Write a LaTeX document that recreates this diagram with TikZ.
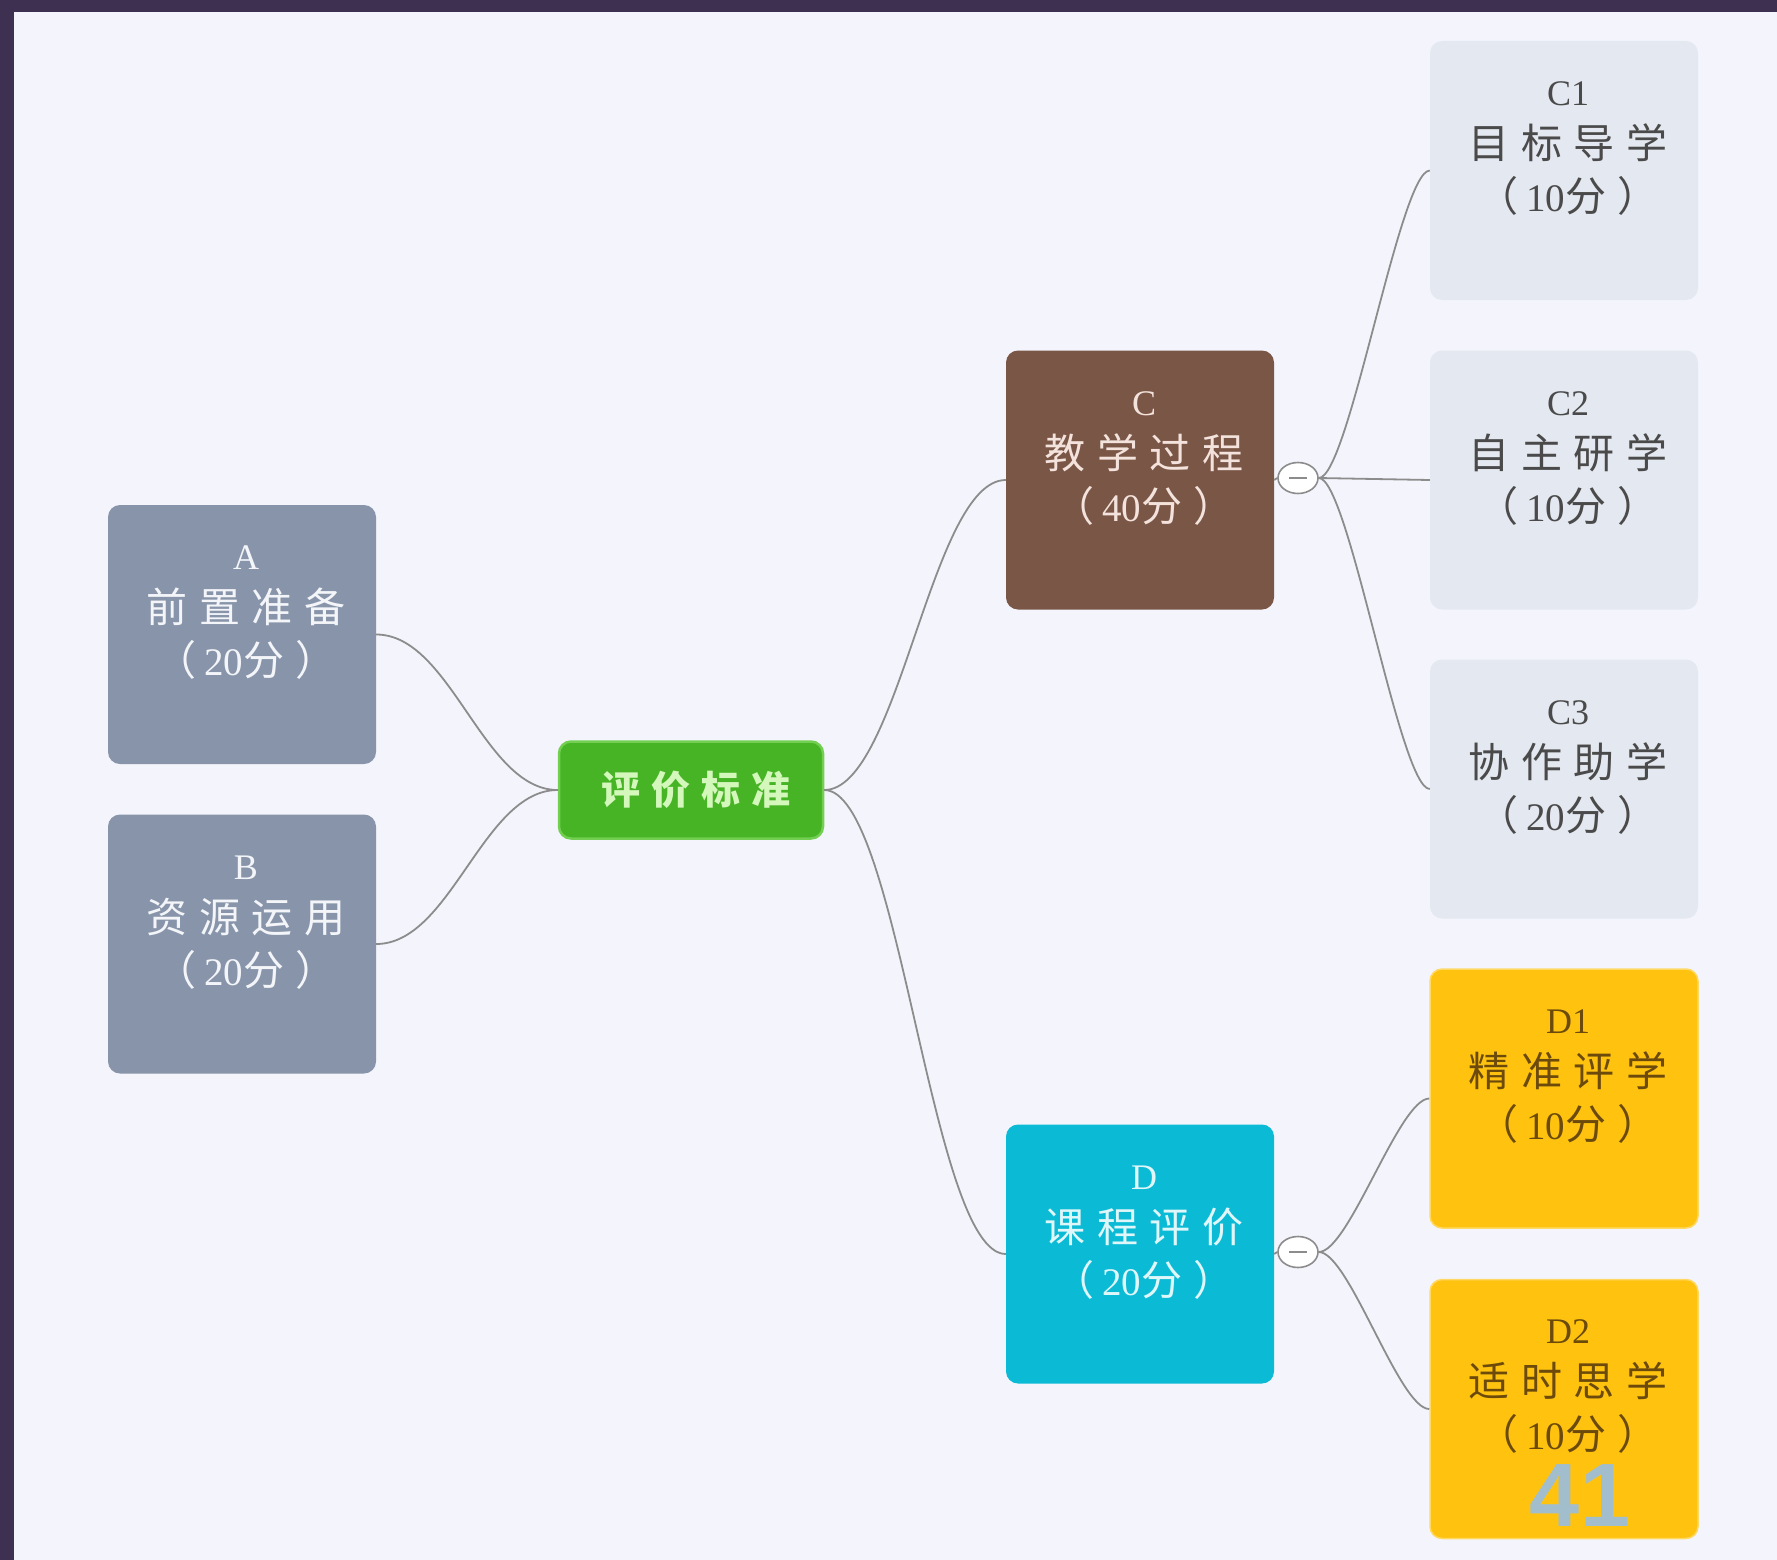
\documentclass[tikz,border=0pt]{standalone}
\usepackage{fontspec}
\setmainfont{Liberation Serif}
\newfontfamily\cjk[LetterSpace=29]{Noto Sans CJK SC}
\newfontfamily\wmfont{Liberation Sans}
\usetikzlibrary{shapes.geometric}
\definecolor{bgc}{HTML}{F4F5FC}
\definecolor{framec}{HTML}{3D3050}
\definecolor{abfill}{HTML}{8794A9}
\definecolor{abtext}{HTML}{F3F5F9}
\definecolor{cfill}{HTML}{7A5646}
\definecolor{ctext}{HTML}{F3E3DC}
\definecolor{dfill}{HTML}{0BBAD5}
\definecolor{dtext}{HTML}{E0F7FA}
\definecolor{cchfill}{HTML}{E4E8F0}
\definecolor{cchtext}{HTML}{4A4A4A}
\definecolor{dchfill}{HTML}{FFC30F}
\definecolor{dchdraw}{HTML}{FFD964}
\definecolor{dchtext}{HTML}{6B4A0C}
\definecolor{mfill}{HTML}{46B425}
\definecolor{mdraw}{HTML}{72CF52}
\definecolor{mtext}{HTML}{D4F7BC}
\definecolor{connc}{HTML}{8C8C8C}
\definecolor{wmc}{HTML}{A2BECD}
\newcommand\boxtext[3]{{\fontsize{36}{53}\selectfont #1}\\{\cjk #2}\\{\cjk （}\hspace{8pt}{\fontsize{39}{53}\selectfont #3}{\cjk 分）}}
\begin{document}
\begin{tikzpicture}[x=1pt,y=-1pt,
  box/.style={rectangle, rounded corners=12pt, minimum width=268pt, minimum height=259pt, inner sep=0pt},
  lbl/.style={align=center, inner sep=0pt, font=\fontsize{41}{53}\selectfont},
  conn/.style={draw=connc, line width=1.8pt},
  minus/.style={ellipse, draw=connc, line width=1.6pt, fill=white, minimum width=40pt, minimum height=31pt, inner sep=0pt,
    path picture={\draw[connc, line width=1.6pt] ([xshift=-9pt]path picture bounding box.center) -- ([xshift=9pt]path picture bounding box.center);}}
]
\fill[bgc] (0,0) rectangle (1777,1560);
\fill[framec] (0,0) rectangle (1777,12);
\fill[framec] (0,0) rectangle (14,1560);
\useasboundingbox (0,0) rectangle (1777,1560);

% boxes
\node[box, fill=abfill] (A) at (242,634.5) {};
\node[box, fill=abfill] (B) at (242,944) {};
\node[rectangle, rounded corners=12pt, fill=mfill, draw=mdraw, line width=2.5pt, minimum width=264pt, minimum height=97pt, text=mtext, font=\cjk\bfseries\fontsize{39}{40}\selectfont] (M) at (691,790) {\hspace{10pt}评价标准};
\node[box, fill=cfill] (C) at (1140,480) {};
\node[box, fill=dfill] (D) at (1140,1254) {};
\node[box, fill=cchfill] (C1) at (1564,170.5) {};
\node[box, fill=cchfill] (C2) at (1564,480) {};
\node[box, fill=cchfill] (C3) at (1564,789) {};
\node[box, fill=dchfill, draw=dchdraw, line width=1.5pt] (D1) at (1564,1098.5) {};
\node[box, fill=dchfill, draw=dchdraw, line width=1.5pt] (D2) at (1564,1409) {};

% labels
\node[lbl, text=abtext] (Al) at ([yshift=-108pt,xshift=4pt]A.north) {\boxtext{A}{前置准备}{20}};
\node[lbl, text=abtext] (Bl) at ([yshift=-108pt,xshift=4pt]B.north) {\boxtext{B}{资源运用}{20}};
\node[lbl, text=ctext] (Cl) at ([yshift=-108pt,xshift=4pt]C.north) {\boxtext{C}{教学过程}{40}};
\node[lbl, text=dtext] (Dl) at ([yshift=-108pt,xshift=4pt]D.north) {\boxtext{D}{课程评价}{20}};
\node[lbl, text=cchtext] (C1l) at ([yshift=-108pt,xshift=4pt]C1.north) {\boxtext{C1}{目标导学}{10}};
\node[lbl, text=cchtext] (C2l) at ([yshift=-108pt,xshift=4pt]C2.north) {\boxtext{C2}{自主研学}{10}};
\node[lbl, text=cchtext] (C3l) at ([yshift=-108pt,xshift=4pt]C3.north) {\boxtext{C3}{协作助学}{20}};
\node[lbl, text=dchtext] (D1l) at ([yshift=-108pt,xshift=4pt]D1.north) {\boxtext{D1}{精准评学}{10}};
\node[lbl, text=dchtext] (D2l) at ([yshift=-108pt,xshift=4pt]D2.north) {\boxtext{D2}{适时思学}{10}};

% collapse markers
\node[minus] (cm) at (1298,478) {};
\node[minus] (dm) at (1298,1252) {};

% connectors
\draw[conn] (A.east) .. controls +(75,0) and +(-75,0) .. (M.west);
\draw[conn] (B.east) .. controls +(75,0) and +(-75,0) .. (M.west);
\draw[conn] (M.east) .. controls +(75,0) and +(-75,0) .. (C.west);
\draw[conn] (M.east) .. controls +(75,0) and +(-75,0) .. (D.west);
\draw[conn] (C.east) -- (cm.west);
\draw[conn] (D.east) -- (dm.west);
\draw[conn] (cm.east) .. controls +(30,0) and +(-30,0) .. (C1.west);
\draw[conn] (cm.east) -- (C2.west);
\draw[conn] (cm.east) .. controls +(30,0) and +(-30,0) .. (C3.west);
\draw[conn] (dm.east) .. controls +(30,0) and +(-30,0) .. (D1.west);
\draw[conn] (dm.east) .. controls +(30,0) and +(-30,0) .. (D2.west);

% page number watermark
\node[text=wmc, font=\wmfont\bfseries\fontsize{90}{90}\selectfont, inner sep=0pt] (pg) at (1580,1496) {41};
\end{tikzpicture}
\end{document}
